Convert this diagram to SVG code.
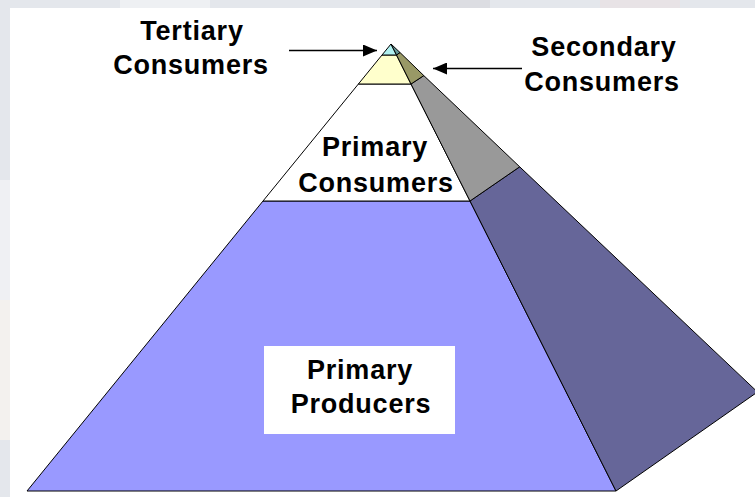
<svg xmlns="http://www.w3.org/2000/svg" width="755" height="497" viewBox="0 0 755 497">
<style>
.face{stroke:#000;stroke-width:1;stroke-linejoin:miter}
.lbl{font-family:"Liberation Sans",Arial,sans-serif;font-weight:bold;font-size:27px;letter-spacing:0.8px;fill:#000;text-anchor:middle}
.arr{stroke:#000;stroke-width:1.5;fill:none}
</style>
<defs>
<marker id="ah" markerWidth="10" markerHeight="10" refX="9" refY="5" orient="auto" markerUnits="userSpaceOnUse">
<path d="M0,0 L10,5 L0,10 Z" fill="#000"/>
</marker>
<marker id="ah2" viewBox="0 0 14 12" markerWidth="14" markerHeight="12" refX="14" refY="6" orient="auto" markerUnits="userSpaceOnUse">
<path d="M0,0 L14,6 L0,12 Z" fill="#000"/>
</marker>
</defs>
<g id="background">
<rect x="0" y="0" width="755" height="497" fill="#E4E7EC"/>
<rect x="120" y="0" width="90" height="8" fill="#EEF0F3"/>
<rect x="380" y="0" width="110" height="8" fill="#DCDDE2"/>
<rect x="600" y="0" width="80" height="8" fill="#E8E3E6"/>
<rect x="0" y="180" width="10" height="120" fill="#EFF0F3"/>
<rect x="0" y="300" width="10" height="140" fill="#F3F1EE"/>
<rect x="10" y="8" width="745" height="489" fill="#FFFFFF"/>
</g>
<g id="primary-producers">
<polygon class="face" points="263,201 470,201 616,491 27,491" fill="#9999FF"/>
<polygon class="face" points="470,201 519.7,166.8 757.5,392 616,491" fill="#666699"/>
<rect x="264" y="346" width="191" height="88" fill="#FFFFFF"/>
<text class="lbl" x="360" y="379">Primary</text>
<text class="lbl" x="361" y="413">Producers</text>
</g>
<g id="primary-consumers">
<polygon class="face" points="358.4,84 411,84 470,201 263,201" fill="#FFFFFF"/>
<polygon class="face" points="411,84 423.8,75.6 519.7,166.8 470,201" fill="#999999"/>
<text class="lbl" x="375" y="156">Primary</text>
<text class="lbl" x="376" y="192">Consumers</text>
</g>
<g id="secondary-consumers">
<polygon class="face" points="382,55 396.5,55 411,84 358.4,84" fill="#FFFFCC"/>
<polygon class="face" points="396.5,55 400,52.5 423.8,75.6 411,84" fill="#999966"/>
<text class="lbl" x="604" y="56">Secondary</text>
<text class="lbl" x="602" y="91">Consumers</text>
</g>
<g id="tertiary-consumers">
<polygon class="face" points="391,44 396.5,55 382,55" fill="#B0F0F0"/>
<polygon class="face" points="391,44 400,52.5 396.5,55" fill="#669999"/>
<text class="lbl" x="192" y="40">Tertiary</text>
<text class="lbl" x="191" y="74">Consumers</text>
</g>
<g id="connectors">
<line class="arr" x1="289" y1="50.5" x2="377" y2="50.5" marker-end="url(#ah2)"/>
<line class="arr" x1="522" y1="68.5" x2="433" y2="68.5" marker-end="url(#ah2)"/>
</g>
</svg>
